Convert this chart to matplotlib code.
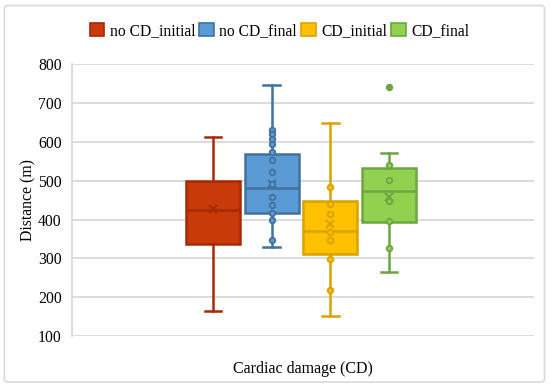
import matplotlib.pyplot as plt
from matplotlib.patches import Patch, FancyBboxPatch

# ------ Data -----------------------
labels = ['no CD_initial', 'no CD_final', 'CD_initial', 'CD_final']
whislo = [165, 329, 152, 264]
q1 = [336, 417, 311, 395]
med = [425, 481, 372, 475]
q3 = [499, 568, 449, 533]
whishi = [614, 746, 650, 571]
means = [428, 493, 389, 459]

pts_nocd_initial = []
pts_nocd_final = [630, 620, 609, 596, 575, 553, 523, 493, 459, 439, 416, 399, 348]
pts_cd_initial = [483, 441, 415, 369, 348, 298, 219]
pts_cd_final = [540, 501, 449, 396, 328]
outliers = [[], [], [], [743]]
# ------------------------------------

fills = ['#C83A0A', '#5B9BD5', '#FFC000', '#92D050']
edges = ['#A52A05', '#41719C', '#D9A200', '#6DA543']

fig = plt.figure(figsize=(5.5, 3.89), dpi=100)
plt.rcParams['font.family'] = ['Liberation Serif', 'DejaVu Serif']

# rounded border round the figure
fig.patches.append(FancyBboxPatch((0.008, 0.018), 0.982, 0.968,
                                  boxstyle='round,pad=0,rounding_size=0.008',
                                  transform=fig.transFigure, fill=False,
                                  edgecolor='#D9D9D9', lw=1.2))

ax = fig.add_axes([0.131, 0.1362, 0.84, 0.698])

stats = []
for i in range(4):
    stats.append(dict(whislo=whislo[i], q1=q1[i], med=med[i], q3=q3[i],
                      whishi=whishi[i], mean=means[i], fliers=[]))

all_pts = [pts_nocd_initial, pts_nocd_final, pts_cd_initial, pts_cd_final]

for i in range(4):
    ax.bxp([stats[i]], positions=[i], widths=0.92, patch_artist=True,
           showmeans=True, showfliers=False,
           boxprops=dict(facecolor=fills[i], edgecolor=edges[i], lw=1.8),
           medianprops=dict(color=edges[i], lw=1.8),
           whiskerprops=dict(color=edges[i], lw=1.8),
           capprops=dict(color=edges[i], lw=1.8),
           capwidths=0.28,
           meanprops=dict(marker='x', markeredgecolor=edges[i], markersize=6, mew=1.6),
           zorder=3)
    ax.plot([i] * len(all_pts[i]), all_pts[i], 'o', ms=4, mfc=fills[i],
            mec=edges[i], mew=1.3, zorder=4, ls='none')
    ax.plot([i] * len(outliers[i]), outliers[i], 'o', ms=4, mfc=edges[i],
            mec=edges[i], mew=1.3, zorder=4, ls='none')

ax.set_xlim(-2.40, 5.47)
ax.set_ylim(100, 800)
ax.set_yticks(range(100, 801, 100))
ax.set_xticks([])
ax.yaxis.grid(True, color='#D9D9D9', lw=1.3, zorder=0)
ax.set_axisbelow(True)
for s in ['top', 'right', 'bottom']:
    ax.spines[s].set_visible(False)
ax.spines['left'].set_color('#D9D9D9')
ax.spines['left'].set_linewidth(1.3)
ax.tick_params(axis='y', length=0, pad=7.5, labelsize=11.3)

ax.set_ylabel('Distance (m)', fontsize=11.3, labelpad=1)
ax.set_xlabel('Cardiac damage (CD)', fontsize=11.5, labelpad=18)

handles = [Patch(facecolor=fills[i], edgecolor=edges[i], lw=1.2) for i in range(4)]
fig.legend(handles, labels, loc='center', bbox_to_anchor=(0.508, 0.921), ncol=4,
           frameon=False, fontsize=11.2, handlelength=0.95, handleheight=0.95,
           handletextpad=0.35, columnspacing=0.25)

fig.savefig('out.png', dpi=100)
